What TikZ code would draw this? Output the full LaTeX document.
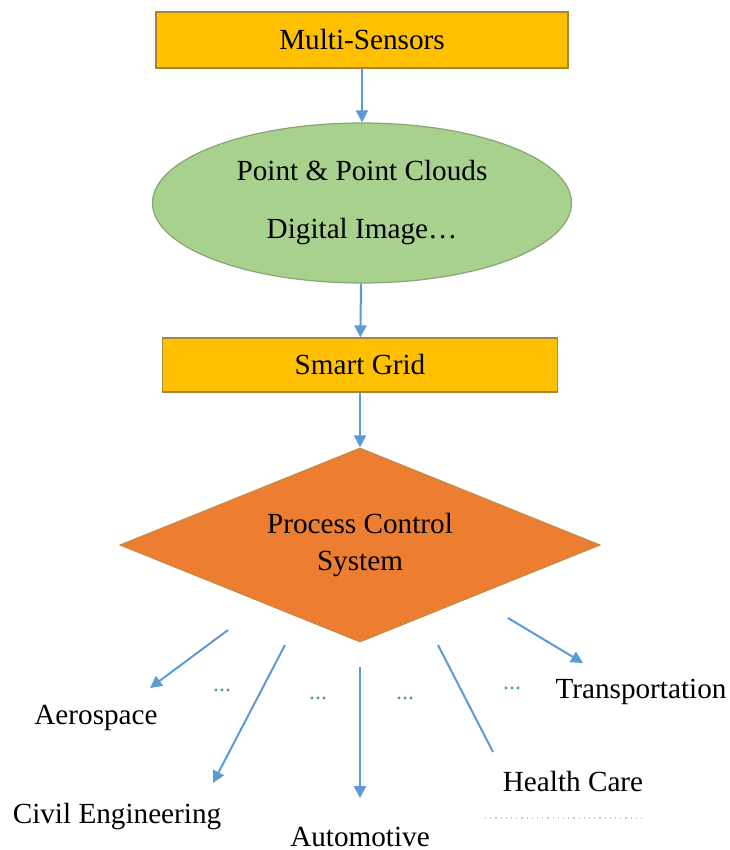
\documentclass[tikz,border=0pt]{standalone}
\usepackage{fontspec}
\setmainfont{LiberationSerif}[Extension=.ttf, UprightFont=*-Regular]
\usetikzlibrary{arrows.meta,shapes.geometric}

\definecolor{linkblue}{RGB}{91,155,213}
\definecolor{gold}{RGB}{255,192,0}
\definecolor{goldedge}{RGB}{165,135,60}
\definecolor{leafgreen}{RGB}{169,209,142}
\definecolor{leafedge}{RGB}{135,165,115}
\definecolor{orange}{RGB}{237,125,49}
\definecolor{orangeedge}{RGB}{195,140,70}
\definecolor{dotgreen}{RGB}{80,160,140}

\begin{document}
\begin{tikzpicture}[x=0.5pt, y=-0.5pt,
    font=\rmfamily\fontsize{14.6}{18.5}\selectfont,
    stem/.style={draw=linkblue, line width=1pt},
    link/.style={stem, -{Triangle[length=6pt,width=6pt]}},
    goldbox/.style={rectangle, draw=goldedge, fill=gold, line width=0.6pt, inner sep=0pt},
    datablob/.style={ellipse, draw=leafedge, fill=leafgreen, line width=0.6pt, inner sep=0pt, align=center},
    decision/.style={diamond, draw=orangeedge, fill=orange, line width=0.6pt, inner sep=0pt, shape aspect=2.5, align=center},
    dots/.style={text=dotgreen, font=\rmfamily\fontsize{12}{12}\selectfont, inner sep=0pt}]

\useasboundingbox (0,0) rectangle (729,850);

\node[goldbox, minimum width=206pt, minimum height=28pt] (sensors) at (362,40) {Multi-Sensors};
\node[datablob, minimum width=209.5pt, minimum height=80pt] (data) at (362,203) {Point \& Point Clouds\\[10.5pt]Digital Image…};
\node[goldbox, minimum width=197.5pt, minimum height=27pt] (grid) at (360,365) {Smart Grid};
\node[decision, minimum width=240pt, minimum height=97pt] (control) at (360,545) {Process Control\\System};

\draw[link] (sensors) -- (data);
\draw[link] (data) -- (grid);
\draw[link] (grid) -- (control);

\node (aerospace) at (96,718) {Aerospace};
\node (civil) at (117,817) {Civil Engineering};
\node (automotive) at (360,837) {Automotive};
\node (health) at (573,782) {Health Care};
\node (transport) at (641,692) {Transportation};

\coordinate (s1) at (228,630);
\coordinate (e1) at (150,688);
\coordinate (s2) at (285,645);
\coordinate (e2) at (213,783);
\coordinate (s3) at (360,667);
\coordinate (e3) at (360,798);
\coordinate (s4) at (438,645);
\coordinate (e4) at (493,752);
\coordinate (s5) at (508,618);
\coordinate (e5) at (583,663);

\foreach \i in {1, 2, 3, 5}
    \draw[link] (s\i) -- (e\i);

\draw[stem] (s4) -- (e4);

\foreach \x/\y [count=\k] in {222/690, 318/698, 405/698, 512/688}
    \node[dots] (dot\k) at (\x,\y) {...};

\coordinate (r1) at (485,818);
\coordinate (r2) at (645,818);
\draw[black!20, dotted, line width=0.6pt] (r1) -- (r2);

\end{tikzpicture}
\end{document}
